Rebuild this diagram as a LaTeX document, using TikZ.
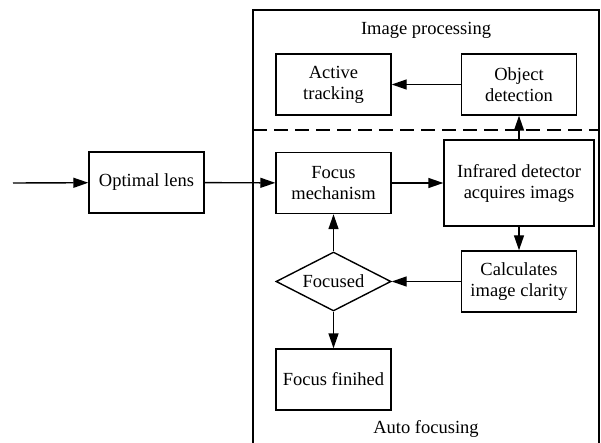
\documentclass[tikz,border=0pt]{standalone}
\usepackage{fontspec}
\setmainfont{Liberation Serif}
\usetikzlibrary{shapes.geometric,arrows.meta}
\begin{document}
\begin{tikzpicture}[x=1pt,y=-1pt, line width=1.4pt,
  txt/.style={font=\fontsize{18.5}{21}\selectfont},
  box/.style={txt, draw, minimum width=115pt, minimum height=61pt, align=center, inner sep=2pt},
  arr/.style={-{Triangle[length=15pt,width=10pt]}},
  dec/.style={txt, draw, shape=diamond, aspect=1.95, inner sep=0pt, minimum width=115pt, minimum height=59pt}
]
\useasboundingbox (0,0) rectangle (601,443);
% frame
\draw (253,443) -- (253,10) -- (599,10) -- (599,443);
\draw[dash pattern=on 14pt off 7pt] (253,130) -- (599,130);
\node[txt] (ip) at (426,30) {Image processing};
\node[txt] (af) at (426,429) {Auto focusing};
% nodes
\coordinate (in) at (13,183);
\node[box] (lens) at (146.5,182.5) {Optimal lens};
\node[box] (act) at (333.5,84.5) {Active\\tracking};
\node[box] (obj) at (519,84.5) {Object\\detection};
\node[box] (focus) at (333.5,183) {Focus\\mechanism};
\node[box, minimum width=150pt, minimum height=86pt] (ir) at (519,183) {Infrared detector\\acquires imags};
\node[box] (calc) at (519,281.5) {Calculates\\image clarity};
\node[dec] (dia) at (333.5,281.5) {Focused};
\node[box] (fin) at (333.5,379.5) {Focus finihed};
% connectors
\draw[arr] (in) -- (lens);
\draw[arr] (lens) -- (focus);
\draw[arr] (focus) -- (ir);
\draw[arr] (ir) -- (obj);
\draw[arr] (obj) -- (act);
\draw[arr] (ir) -- (calc);
\draw[arr] (calc) -- (dia);
\draw[arr] (dia) -- (focus);
\draw[arr] (dia) -- (fin);
\end{tikzpicture}
\end{document}
